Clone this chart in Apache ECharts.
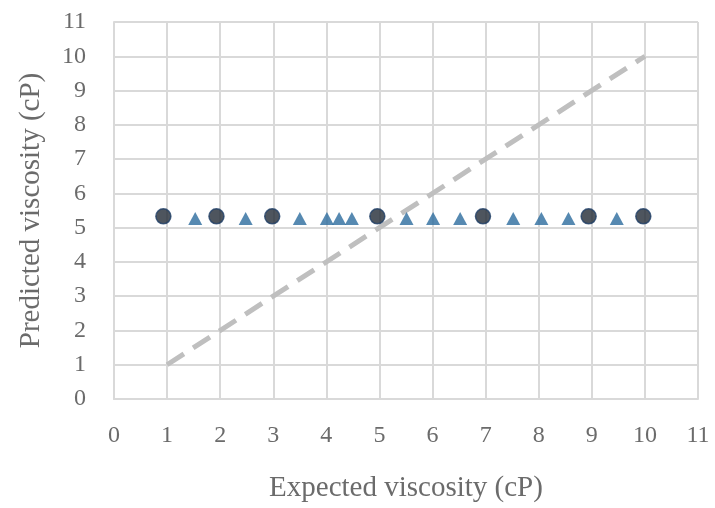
<!DOCTYPE html>
<html>
<head>
<meta charset="utf-8">
<script src="https://cdn.jsdelivr.net/npm/echarts@6/dist/echarts.min.js"></script>
<style>
  html, body { margin: 0; padding: 0; background: #fff; }
  #chart { width: 715px; height: 508px; }
</style>
</head>
<body>
<div id="chart"></div>
<script>
// circles - expected vs predicted
const circleX = [0.93, 1.93, 2.98, 4.96, 6.95, 8.94, 9.97]
const circleY = [5.33, 5.33, 5.33, 5.33, 5.33, 5.33, 5.33]

// triangles
const triX = [1.53, 2.48, 3.50, 4.01, 4.24, 4.48, 5.51, 6.01, 6.52, 7.52, 8.05, 8.56, 9.47]
const triY = [5.27, 5.27, 5.27, 5.27, 5.27, 5.27, 5.27, 5.27, 5.27, 5.27, 5.27, 5.27, 5.27]

// y = x reference line
const refX = [1, 10]
const refY = [1, 10]

const xName = 'Expected viscosity (cP)'
const yName = 'Predicted viscosity (cP)'

const zip = (a, b) => a.map((v, i) => [v, b[i]])

const chart = echarts.init(document.getElementById('chart'))

const fontFamily = '"Liberation Serif", "DejaVu Serif", serif'
const textGray = '#6b6b6b'
const gridGray = '#d9d9d9'

const axisCommon = {
  type: 'value',
  min: 0,
  max: 11,
  interval: 1,
  nameLocation: 'middle',
  nameTextStyle: { fontFamily, fontSize: 29, color: textGray },
  axisLine: { show: true, lineStyle: { color: gridGray, width: 2 } },
  axisTick: { show: false },
  splitLine: { show: true, lineStyle: { color: gridGray, width: 2 } },
  axisLabel: { fontFamily, fontSize: 24, color: textGray }
}

chart.setOption({
  animation: false,
  grid: { left: 114, right: 17, top: 22, bottom: 105 },
  xAxis: {
    ...axisCommon,
    name: xName,
    nameGap: 75,
    axisLabel: { ...axisCommon.axisLabel, margin: 25 }
  },
  yAxis: {
    ...axisCommon,
    name: yName,
    nameGap: 68,
    axisLabel: { ...axisCommon.axisLabel, margin: 28 }
  },
  series: [
    {
      type: 'line',
      data: zip(refX, refY),
      symbol: 'none',
      lineStyle: { color: '#bfbfbf', width: 5, type: [20, 11] },
      z: 1
    },
    {
      type: 'scatter',
      data: zip(triX, triY),
      symbol: 'triangle',
      symbolSize: [14, 13],
      itemStyle: { color: '#2c6c9e' },
      z: 2
    },
    {
      type: 'scatter',
      data: zip(circleX, circleY),
      symbol: 'circle',
      symbolSize: 15,
      itemStyle: { color: '#222a36', borderColor: '#1f3f66', borderWidth: 1.5 },
      z: 3
    }
  ]
})
</script>
</body>
</html>
